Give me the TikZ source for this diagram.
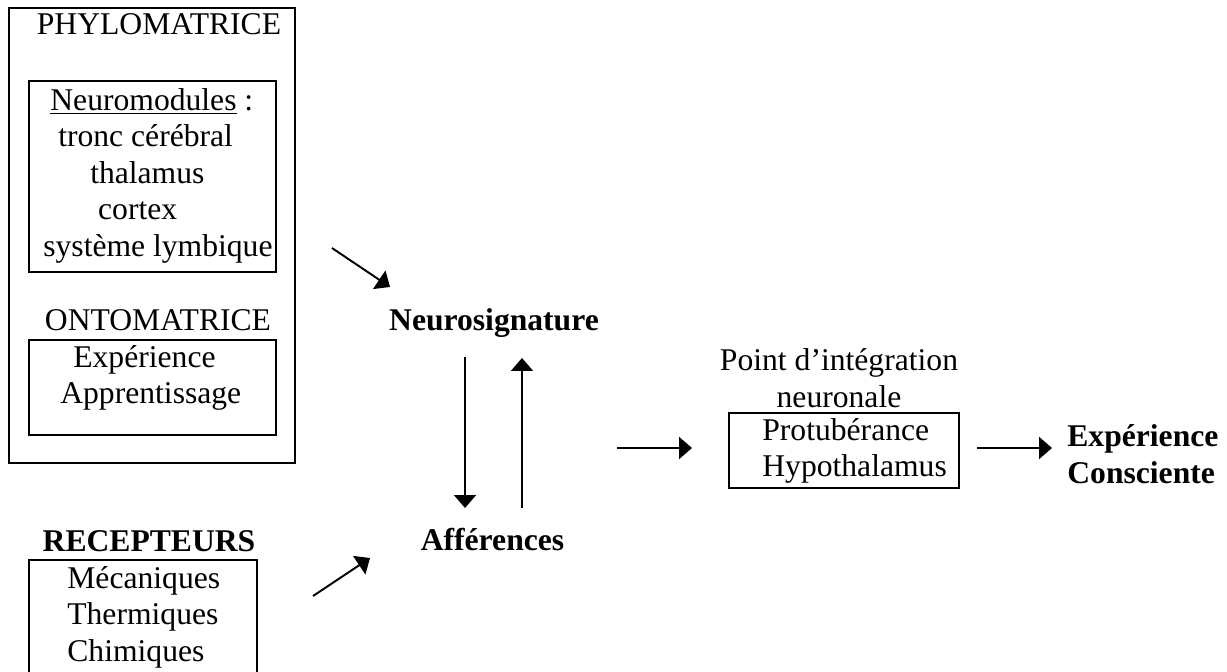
\documentclass[tikz,border=0pt]{standalone}
\usepackage{fontspec}
\setmainfont{Liberation Serif}
\usetikzlibrary{arrows.meta}
\tikzset{
	txt/.style={font=\fontsize{18pt}{20.8pt}\selectfont, inner sep=0pt, align=center},
	bold/.style={font=\fontsize{18pt}{20.8pt}\selectfont\bfseries, inner sep=0pt, align=left},
	box/.style={draw, line width=1.1pt, inner sep=0pt},
	arr/.style={-{Triangle[length=2.6mm,width=4.4mm]}, line width=1.1pt}
}
\begin{document}
\begin{tikzpicture}[x=0.02cm, y=-0.02cm]
	\useasboundingbox (0,0) rectangle (1227,672);
	\node[box, minimum width=5.72cm, minimum height=9.1cm] (phylo) at (152,235.5) {};
	\node[txt, anchor=base] (phylotxt) at (159,35) {PHYLOMATRICE};
	\node[box, minimum width=4.94cm, minimum height=3.82cm] (modules) at (152.5,176.5) {};
	\node[txt, align=left, anchor=west] (modulestxt) at (43,175.7) {\hspace*{4pt}\underline{Neuromodules} :\\\hspace*{8.5pt}tronc cérébral\\\hspace*{26.7pt}thalamus\\\hspace*{31.2pt}cortex\\système lymbique};
	\node[txt, anchor=base] (onto) at (158,330) {ONTOMATRICE};
	\node[box, minimum width=4.94cm, minimum height=1.9cm] (ontobox) at (152.5,387.5) {};
	\node[txt, align=left, anchor=west] (ontotxt) at (60,378) {\hspace*{7.4pt}Expérience\\Apprentissage};
	\node[bold, anchor=base] (recep) at (149,551) {RECEPTEURS};
	\node[box, minimum width=4.56cm, minimum height=2.8cm] (recepbox) at (143,630) {};
	\node[txt, align=left, anchor=west] (receptxt) at (67,617) {Mécaniques\\Thermiques\\Chimiques};
	\node[bold, anchor=base] (signature) at (494,330) {Neurosignature};
	\node[bold, anchor=base] (afferences) at (492.5,550) {Afférences};
	\node[txt] (point) at (839,378) {Point d’intégration\\neuronale};
	\node[box, minimum width=4.6cm, minimum height=1.5cm] (integ) at (844,450.5) {};
	\node[txt, align=left, anchor=west] (integtxt) at (762,451) {Protubérance\\Hypothalamus};
	\node[bold, anchor=west] (conscience) at (1067,454) {Expérience\\Consciente};
	\coordinate (a1) at (332,248);
	\coordinate (b1) at (390,287);
	\coordinate (a2) at (313,596);
	\coordinate (b2) at (370,558);
	\coordinate (d1) at (465,357);
	\coordinate (d2) at (465,508);
	\coordinate (u1) at (522,508);
	\coordinate (u2) at (522,358);
	\coordinate (a3) at (617,448);
	\coordinate (b3) at (692,448);
	\coordinate (a4) at (977,448);
	\coordinate (b4) at (1052,448);
	\draw[arr] (a1)--(b1);
	\draw[arr] (a2)--(b2);
	\draw[arr] (d1)--(d2);
	\draw[arr] (u1)--(u2);
	\draw[arr] (a3)--(b3);
	\draw[arr] (a4)--(b4);
\end{tikzpicture}
\end{document}
